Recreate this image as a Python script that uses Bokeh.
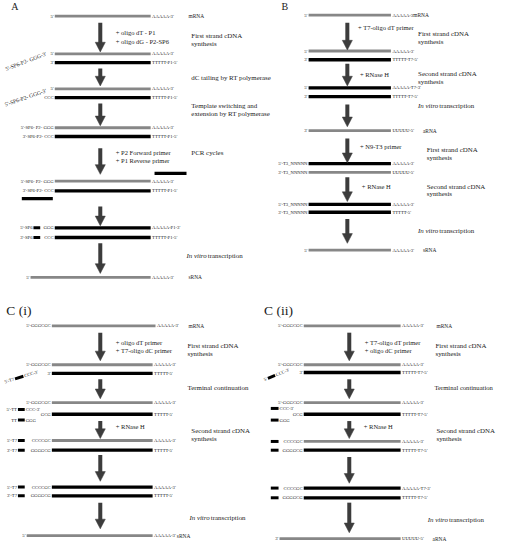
import math
from bokeh.plotting import figure
from bokeh.models import Range1d, ColumnDataSource
from bokeh.core.properties import value
from bokeh.embed import file_html
from bokeh.resources import INLINE

FONT = "Liberation Serif"
GRAY = "#878787"
BLACK = "#000000"
ARROW = "#3c3c3c"
TXT = "#1a1a1a"

# ---------------- data: labels ----------------
A_left = ["5'", "5'", "3'", "5'", "CCC", "5'-SP6- P2- GGG", "3'-SP6-P2- CCC",
          "5'-SP6- P2- GGG", "3'-SP6-P2- CCC", "GGG", "CCC", "5'"]
A_right = ["AAAAA-3'", "AAAAA-3'", "TTTTT-P1-5'", "AAAAA-3'", "TTTTT-P1-5'",
           "AAAAA-3'", "TTTTT-P1-5'", "AAAAA-3'", "TTTTT-P1-5'",
           "AAAAA-P1-3'", "TTTTT-P1-5'", "AAAAA-3'"]
A_kind = ["R", "R", "D", "R", "D", "R", "D", "R", "D", "D", "D", "R"]
A_prefix = ["", "", "", "", "", "", "", "", "", "5'-SP6", "3'-SP6", ""]
A_notes = ["mRNA", "sRNA"]
A_adds = ["+ oligo dT - P1", "+ oligo dG - P2-SP6", "+ P2 Forward primer", "+ P1 Reverse primer"]
A_steps = ["First strand cDNA", "synthesis", "dC tailing by RT polymerase",
           "Template switching and", "extension by RT polymerase", "PCR cycles"]
A_tilted = ["5'-SP6-P2- GGG-3'", "5'-SP6-P2- GGG-3'"]

B_left = ["5'", "5'", "3'", "5'", "3'", "3'", "5'-T3_NNNNN", "3'-T3_NNNNN",
          "5'-T3_NNNNN", "3'-T3_NNNNN", "5'"]
B_right = ["AAAAA-3'", "AAAAA-3'", "TTTTT-T7-5'", "AAAAA-T7-3'", "TTTTT-T7-5'",
           "UUUUU-5'", "AAAAA-3'", "UUUUU-5'", "AAAAA-3'", "TTTTT-5'", "AAAAA-3'"]
B_kind = ["R", "R", "D", "D", "D", "R", "D", "R", "D", "D", "R"]
B_notes = ["mRNA", "aRNA", "sRNA"]
B_adds = ["+ T7-oligo dT primer", "+ RNase H", "+ N9-T3 primer", "+ RNase H"]
B_steps = ["First strand cDNA", "synthesis", "Second strand cDNA", "synthesis",
           "First strand cDNA", "synthesis", "Second strand cDNA", "synthesis"]

C1_left = ["5'-GGGCGC", "5'-GGGCGC", "3'", "5'-GGGCGC", "GCG", "CCCCGC", "GGGGCG",
           "CCCCGC", "GGGGCG", "5'"]
C1_right = ["AAAAA-3'", "AAAAA-3'", "TTTTT-5'", "AAAAA-3'", "TTTTT-5'", "AAAAA-3'",
            "TTTTT-5'", "AAAAA-3'", "TTTTT-5'", "AAAAA-3'"]
C1_kind = ["R", "R", "D", "R", "D", "R", "D", "D", "D", "R"]
C1_prefix = ["", "", "", "", "", "5'-T7", "3'-T7", "5'-T7", "3'-T7", ""]
C1_short = [("5'-TT", "CCC-3'"), ("TT", "GGG")]
C1_tilted = ("5'-T7", "CCC-3'")
C1_notes = ["mRNA", "sRNA"]
C1_adds = ["+ oligo dT primer", "+ T7-oligo dC primer", "+ RNase H"]
C1_steps = ["First strand cDNA", "synthesis", "Terminal continuation",
            "Second strand cDNA", "synthesis"]

C2_left = ["5'-GGGCGC", "5'-GGGCGC", "3'", "5'-GGGCGC", "GCG", "CCCCGC", "GGGGCG",
           "CCCCGC", "GGGGCG", "3'"]
C2_right = ["AAAAA-3'", "AAAAA-3'", "TTTTT-T7-5'", "AAAAA-3'", "TTTTT-T7-5'",
            "AAAAA-3'", "TTTTT-T7-5'", "AAAAA-T7-3'", "TTTTT-T7-5'", "UUUUU-5'"]
C2_kind = ["R", "R", "D", "R", "D", "R", "D", "D", "D", "R"]
C2_hasbar = [False, False, False, False, False, True, True, True, True, False]
C2_short = [("", "CCC-3'"), ("", "GGG")]
C2_tilted = ("5'", "CCC-3'")
C2_notes = ["mRNA", "aRNA"]
C2_adds = ["+ T7-oligo dT primer", "+ oligo dC primer", "+ RNase H"]
C2_steps = ["First strand cDNA", "synthesis", "Terminal continuation",
            "Second strand cDNA", "synthesis"]

TITLES = ["A", "B", "C (i)", "C (ii)"]

# ---------------- layout (reference pixel space) ----------------
A_y = [16, 55, 64, 91, 100, 131, 140, 186, 196, 234, 244, 285]
A_x0 = [56] * 11 + [31]
A_x1 = 155
A_arrow_x = 103
A_arrows = [(23, 53), (70, 88), (106, 129), (152, 179), (212, 232), (250, 281)]
A_notes_xy = [(194, 16), (194, 285)]
A_adds_xy = [(119, 33), (119, 42), (119, 157), (119, 165)]
A_steps_xy = [(197, 36), (197, 44), (197, 79), (197, 108), (197, 116), (197, 157)]
A_vitro_xy = (192, 263)
A_primers = [(159, 192, 178), (22, 54, 204)]
A_bar = (34, 41)
A_tilted_xy = [(47, 54.5, 21), (47, 92.5, 19)]

B_y = [15, 52, 61, 90, 99, 134, 168, 177, 210, 218, 257]
B_x0 = 318
B_x1 = 403
B_arrow_x = 358
B_arrows = [(23, 51), (65, 88), (107, 130), (142, 167), (182, 207), (225, 250)]
B_notes_xy = [(426, 15), (436, 134), (436, 257)]
B_adds_xy = [(369, 28), (371, 76), (371, 150), (373, 191)]
B_steps_xy = [(431, 34), (431, 42), (431, 75), (431, 83), (440, 153), (440, 162),
              (440, 191), (440, 199)]
B_vitro_xy = [(431, 108), (431, 237)]

C1_y = [335, 375, 384, 414, 426, 453, 463, 501, 510, 551]
C1_x0 = [53] * 9 + [27]
C1_x1 = [160, 157, 157, 157, 157, 157, 157, 157, 157, 157]
C1_arrow_x = 103
C1_arrows = [(342, 371), (390, 410), (433, 451), (468, 495), (517, 544)]
C1_bar = (18, 25)
C1_short_y = [421, 432]
C1_tilt = (15, 389.5, 17)
C1_notes_xy = [(194, 335), (182, 551)]
C1_adds_xy = [(119, 352), (119, 360), (119, 439)]
C1_steps_xy = [(193, 355), (193, 363), (193, 398), (197, 443), (197, 451)]
C1_vitro_xy = (195, 532)

C2_y = [335, 375, 383, 414, 426, 454, 463, 502, 512, 554]
C2_x0 = [313] * 9 + [288]
C2_x1 = 413
C2_arrow_x = 360
C2_arrows = [(342, 371), (390, 410), (433, 451), (470, 497), (517, 548)]
C2_bar = (279, 288)
C2_short_y = [420, 432]
C2_tilt = (276, 389, 22)
C2_notes_xy = [(450, 335), (446, 554)]
C2_adds_xy = [(376, 352), (376, 360), (375, 439)]
C2_steps_xy = [(449, 355), (449, 363), (448, 398), (450, 443), (450, 451)]
C2_vitro_xy = (441, 534)

TITLES_xy = [(11, 6, 10), (290, 6, 10), (6, 319, 13.5), (272, 319, 13.5)]

S_LAB = 4.7     # strand end labels
S_ADD = 6.5     # "+ reagent" notes
S_STEP = 6.9    # step descriptions
S_NOTE = 5.4    # mRNA / sRNA / aRNA
W_R = 2.8
W_D = 3.3

# ---------------- figure ----------------
p = figure(width=497, height=541, x_range=Range1d(0, 513), y_range=Range1d(557, 0),
           output_backend="svg", toolbar_location=None, min_border=0,
           x_axis_type=None, y_axis_type=None)
p.grid.visible = False
p.outline_line_color = None
p.background_fill_color = "white"
p.border_fill_color = "white"

texts = {}
segs = {}


def T(x, y, s, size, align="left", style="normal", angle=0.0):
    d = texts.setdefault((size, align, style), dict(x=[], y=[], text=[], angle=[]))
    d["x"].append(x); d["y"].append(y); d["text"].append(s); d["angle"].append(angle)


def S(x0, y0, x1, y1, color, w):
    d = segs.setdefault((color, w), dict(x0=[], y0=[], x1=[], y1=[]))
    d["x0"].append(x0); d["y0"].append(y0); d["x1"].append(x1); d["y1"].append(y1)


arrow_heads = dict(xs=[], ys=[])


def arrow(x, y0, y1):
    S(x, y0, x, y1 - 9, ARROW, 4.0)
    arrow_heads["xs"].append([x - 5.2, x + 5.2, x])
    arrow_heads["ys"].append([y1 - 10, y1 - 10, y1])


def strand(x0, x1, y, kind, left, right):
    if kind == "R":
        S(x0, y, x1, y, GRAY, W_R)
    else:
        S(x0, y, x1, y, BLACK, W_D)
    if left:
        T(x0 - 1.2, y, left, S_LAB, "right")
    if right:
        T(x1 + 1.5, y, right, S_LAB, "left")


def tilted_bar(x, y, deg, length, before, after):
    a = math.radians(deg)
    ex, ey = x + length * math.cos(a), y - length * math.sin(a)
    S(x, y, ex, ey, BLACK, 3.0)
    if before:
        T(x - 1.0 * math.cos(a), y + 1.0 * math.sin(a), before, S_LAB, "right", angle=a)
    if after:
        T(ex + 1.0 * math.cos(a), ey - 1.0 * math.sin(a), after, S_LAB, "left", angle=a)


def vitro(x, y):
    T(x, y, "In vitro", S_STEP, "left", "italic")
    T(x + 22, y, "transcription", S_STEP, "left")


# Titles
for t, (x, y, sz) in zip(TITLES, TITLES_xy):
    T(x, y, t, sz)

# ---- Panel A ----
for i in range(len(A_y)):
    strand(A_x0[i], A_x1, A_y[i], A_kind[i], A_left[i], A_right[i])
    if A_prefix[i]:
        S(A_bar[0], A_y[i], A_bar[1], A_y[i], BLACK, 3.0)
        T(A_bar[0] - 1, A_y[i], A_prefix[i], S_LAB, "right")
for (a, b, y) in A_primers:
    S(a, y, b, y, BLACK, W_D)
for (y0, y1) in A_arrows:
    arrow(A_arrow_x, y0, y1)
for t, (x, y) in zip(A_notes, A_notes_xy):
    T(x, y, t, S_NOTE)
for t, (x, y) in zip(A_adds, A_adds_xy):
    T(x, y, t, S_ADD)
for t, (x, y) in zip(A_steps, A_steps_xy):
    T(x, y, t, S_STEP)
vitro(*A_vitro_xy)
for t, (x, y, deg) in zip(A_tilted, A_tilted_xy):
    T(x, y, t, 5.6, "right", angle=math.radians(deg))

# ---- Panel B ----
for i in range(len(B_y)):
    strand(B_x0, B_x1, B_y[i], B_kind[i], B_left[i], B_right[i])
for (y0, y1) in B_arrows:
    arrow(B_arrow_x, y0, y1)
for t, (x, y) in zip(B_notes, B_notes_xy):
    T(x, y, t, S_NOTE)
for t, (x, y) in zip(B_adds, B_adds_xy):
    T(x, y, t, S_ADD)
for t, (x, y) in zip(B_steps, B_steps_xy):
    T(x, y, t, S_STEP)
for xy in B_vitro_xy:
    vitro(*xy)

# ---- Panel C(i) ----
for i in range(len(C1_y)):
    strand(C1_x0[i], C1_x1[i], C1_y[i], C1_kind[i], C1_left[i], C1_right[i])
    if C1_prefix[i]:
        S(C1_bar[0], C1_y[i], C1_bar[1], C1_y[i], BLACK, 3.0)
        T(C1_bar[0] - 1, C1_y[i], C1_prefix[i], S_LAB, "right")
for (pre, post), y in zip(C1_short, C1_short_y):
    S(C1_bar[0], y, C1_bar[1], y, BLACK, 3.0)
    T(C1_bar[0] - 1, y, pre, S_LAB, "right")
    T(C1_bar[1] + 1, y, post, S_LAB, "left")
tilted_bar(C1_tilt[0], C1_tilt[1], C1_tilt[2], 9, C1_tilted[0], C1_tilted[1])
for (y0, y1) in C1_arrows:
    arrow(C1_arrow_x, y0, y1)
for t, (x, y) in zip(C1_notes, C1_notes_xy):
    T(x, y, t, S_NOTE)
for t, (x, y) in zip(C1_adds, C1_adds_xy):
    T(x, y, t, S_ADD)
for t, (x, y) in zip(C1_steps, C1_steps_xy):
    T(x, y, t, S_STEP)
vitro(*C1_vitro_xy)

# ---- Panel C(ii) ----
for i in range(len(C2_y)):
    strand(C2_x0[i], C2_x1, C2_y[i], C2_kind[i], C2_left[i], C2_right[i])
    if C2_hasbar[i]:
        S(C2_bar[0], C2_y[i], C2_bar[1] - 1, C2_y[i], BLACK, 3.0)
for (pre, post), y in zip(C2_short, C2_short_y):
    S(C2_bar[0], y, C2_bar[1] - 1, y, BLACK, 3.0)
    T(C2_bar[1], y, post, S_LAB, "left")
tilted_bar(C2_tilt[0], C2_tilt[1], C2_tilt[2], 8, C2_tilted[0], C2_tilted[1])
for (y0, y1) in C2_arrows:
    arrow(C2_arrow_x, y0, y1)
for t, (x, y) in zip(C2_notes, C2_notes_xy):
    T(x, y, t, S_NOTE)
for t, (x, y) in zip(C2_adds, C2_adds_xy):
    T(x, y, t, S_ADD)
for t, (x, y) in zip(C2_steps, C2_steps_xy):
    T(x, y, t, 6.6 if "Terminal" in t else S_STEP)
vitro(*C2_vitro_xy)

# ---------------- render ----------------
for (color, w), d in segs.items():
    p.segment(x0="x0", y0="y0", x1="x1", y1="y1", source=ColumnDataSource(d),
              line_color=color, line_width=w, line_cap="butt")
p.patches(xs="xs", ys="ys", source=ColumnDataSource(arrow_heads),
          fill_color=ARROW, line_color=ARROW, line_width=0.5)
for (size, align, style), d in texts.items():
    p.text(x="x", y="y", text="text", angle="angle", source=ColumnDataSource(d),
           text_font=value(FONT), text_font_size=value(f"{size}px"),
           text_align=align, text_baseline="middle", text_font_style=style,
           text_color=TXT)

open("out.html", "w").write(file_html(p, INLINE))
